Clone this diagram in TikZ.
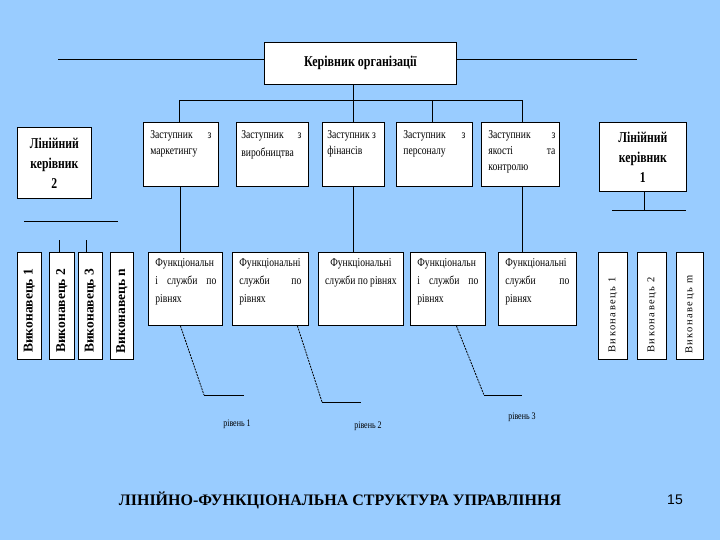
\documentclass[tikz,border=0pt]{standalone}
\usepackage{fontspec}
\setmainfont{Liberation Serif}
\newfontfamily\sansf{Liberation Sans}
\newfontfamily\condserif[FakeStretch=0.8]{Liberation Serif}
\newfontfamily\condlk[FakeStretch=0.78]{Liberation Serif}
\newfontfamily\spacedserif[LetterSpace=14]{Liberation Serif}
\definecolor{bgblue}{RGB}{153,204,255}
\newcommand\tbx[4]{\parbox[c][#2pt][t]{#1pt}{\vspace*{#3pt}#4}}
\begin{document}
\begin{tikzpicture}[x=1pt,y=-1pt,
  bx/.style={draw=black, fill=white, line width=0.8pt, inner sep=0pt, anchor=north west, minimum width=#1pt},
  ln/.style={draw=black, line width=0.8pt},
  dotln/.style={draw=black, line width=0.8pt, dash pattern=on 2pt off 1pt},
  deptext/.style={font=\condserif\fontsize{12}{16}\selectfont},
  ftext/.style={font=\condserif\fontsize{12}{18}\selectfont},
  lktext/.style={font=\condlk\bfseries\fontsize{15}{20}\selectfont, align=center},
  exl/.style={draw=black, fill=white, line width=0.8pt, inner sep=0pt, anchor=north west},
]
\fill[bgblue] (0,0) rectangle (720,540);
\useasboundingbox (0,0) rectangle (720,540);

% top manager
\node[bx=192, minimum height=42pt, font=\condserif\bfseries\fontsize{15}{16}\selectfont] (ceo) at (264,42) {\raisebox{4pt}{Керівник організації}};

% deputies
\node[bx=75, deptext] (d1) at (143,122) {\tbx{75}{64}{0}{\leftskip7pt\rightskip7pt\parindent0pt\vspace*{8pt}Заступник\hfill з\\маркетингу}};
\node[bx=72, deptext] (d2) at (236,122) {\tbx{72}{64}{0}{\leftskip5pt\rightskip7pt\parindent0pt\vspace*{8pt}Заступник\hfill з\\[2pt]виробництва}};
\node[bx=62, deptext] (d3) at (322,122) {\tbx{62}{64}{0}{\leftskip5pt\rightskip1pt\parindent0pt\vspace*{8pt}Заступник з\\фінансів}};
\node[bx=76, deptext] (d4) at (396,122) {\tbx{76}{64}{0}{\leftskip7pt\rightskip7pt\parindent0pt\vspace*{8pt}Заступник\hfill з\\персоналу}};
\node[bx=78, deptext] (d5) at (481,122) {\tbx{78}{64}{0}{\leftskip7pt\rightskip4pt\parindent0pt\vspace*{8pt}Заступник\hfill з\\якості\hfill та\\контролю}};

% line managers
\node[bx=74, minimum height=71pt, lktext] (lk2) at (17,127) {Лінійний\\керівник\\2};
\node[bx=87, minimum height=69pt, lktext] (lk1) at (599,122) {Лінійний\\керівник\\1};

% functional services
\node[bx=74, ftext] (f1) at (148,252) {\tbx{74}{73}{0}{\leftskip7pt\rightskip6pt\parindent0pt\vspace*{6pt}Функціональн\\і\hfill служби\hfill по\\рівнях}};
\node[bx=76, ftext] (f2) at (232,252) {\tbx{76}{73}{0}{\leftskip7pt\rightskip7pt\parindent0pt\vspace*{6pt}Функціональні\\служби\hfill по\\рівнях}};
\node[bx=85, ftext] (f3) at (318,252) {\tbx{85}{73}{0}{\leftskip4pt\rightskip4pt\parindent0pt\vspace*{6pt}\centering Функціональні\\служби по рівнях\par}};
\node[bx=75, ftext] (f4) at (410,252) {\tbx{75}{73}{0}{\leftskip7pt\rightskip7pt\parindent0pt\vspace*{6pt}Функціональн\\і\hfill служби\hfill по\\рівнях}};
\node[bx=78, ftext] (f5) at (498,252) {\tbx{78}{73}{0}{\leftskip7pt\rightskip7pt\parindent0pt\vspace*{6pt}Функціональні\\служби\hfill по\\рівнях}};

% left executors
\node[exl, minimum width=24pt, minimum height=107pt] (e1) at (17,252) {};
\node[exl, minimum width=25pt, minimum height=107pt] (e2) at (49,252) {};
\node[exl, minimum width=24pt, minimum height=107pt] (e3) at (78,252) {};
\node[exl, minimum width=23pt, minimum height=107pt] (en) at (110,252) {};
\foreach \n/\t in {e1/1, e2/2, e3/3, en/n}
  \node[rotate=90, font=\bfseries\fontsize{13.5}{14}\selectfont] at ([yshift=-5pt]\n.center) {Виконавець \t};

% right executors
\node[exl, minimum width=29pt, minimum height=107pt] (r1) at (598,252) {};
\node[exl, minimum width=29pt, minimum height=107pt] (r2) at (637,252) {};
\node[exl, minimum width=27pt, minimum height=107pt] (rm) at (676,252) {};
\foreach \n/\t in {r1/1, r2/2, rm/m}
  \node[rotate=90, font=\spacedserif\fontsize{10.5}{12}\selectfont] at ([yshift=-9pt]\n.center) {Виконавець \t};

% connectors
\coordinate (tl) at (58,59);
\coordinate (tr) at (637,59);
\draw[ln] (tl) -- (ceo.west |- tl);
\draw[ln] (ceo.east |- tr) -- (tr);
\coordinate (bus) at (0,100);
\draw[ln] (ceo.south -| d3.north) -- (d3.north);
\draw[ln] ([xshift=-1.5pt]d1.north) |- ([xshift=2pt]d5.north |- bus) -- ([xshift=2pt]d5.north);
\draw[ln] ([xshift=-2pt]d4.north) -- ([xshift=-2pt]d4.north |- bus);

\draw[ln] ([xshift=-1pt]d1.south) -- ([xshift=-1pt]d1.south |- f1.north);
\draw[ln] (d3.south) -- (d3.south |- f3.north);
\draw[ln] ([xshift=2pt]d5.south) -- ([xshift=2pt]d5.south |- f5.north);

\coordinate (rb) at (0,210);
\draw[ln] ([xshift=1.5pt]lk1.south) -- ([xshift=1.5pt]lk1.south |- rb);
\coordinate (rbl) at (612,210);
\coordinate (rbr) at (686,210);
\draw[ln] (rbl) -- (rbr);

\coordinate (lbl) at (24,221);
\coordinate (lbr) at (118,221);
\draw[ln] (lbl) -- (lbr);
\draw[ln] ([xshift=-2.5pt]e2.north) -- ++(0,-12);
\draw[ln] ([xshift=-4pt]e3.north) -- ++(0,-12);

% levels
\coordinate (a1) at (204,395); \coordinate (b1) at (244,395);
\coordinate (a2) at (322,402); \coordinate (b2) at (361,402);
\coordinate (a3) at (484,395); \coordinate (b3) at (522,395);
\draw[dotln] ([xshift=-5pt]f1.south) -- (a1);
\draw[ln] (a1) -- (b1);
\draw[dotln] ([xshift=27pt]f2.south) -- (a2);
\draw[ln] (a2) -- (b2);
\draw[dotln] ([xshift=8.5pt]f4.south) -- (a3);
\draw[ln] (a3) -- (b3);

\node[font=\condserif\fontsize{10}{10}\selectfont] (lv1) at (237,424) {рівень 1};
\node[font=\condserif\fontsize{10}{10}\selectfont] (lv2) at (368,426) {рівень 2};
\node[font=\condserif\fontsize{10}{10}\selectfont] (lv3) at (522,417) {рівень 3};

% title
\node[font=\bfseries\fontsize{16}{17}\selectfont] (title) at (340,500) {ЛІНІЙНО-ФУНКЦІОНАЛЬНА СТРУКТУРА УПРАВЛІННЯ};
\node[font=\sansf\fontsize{14}{16}\selectfont] (pg) at (675,500) {15};
\end{tikzpicture}
\end{document}
